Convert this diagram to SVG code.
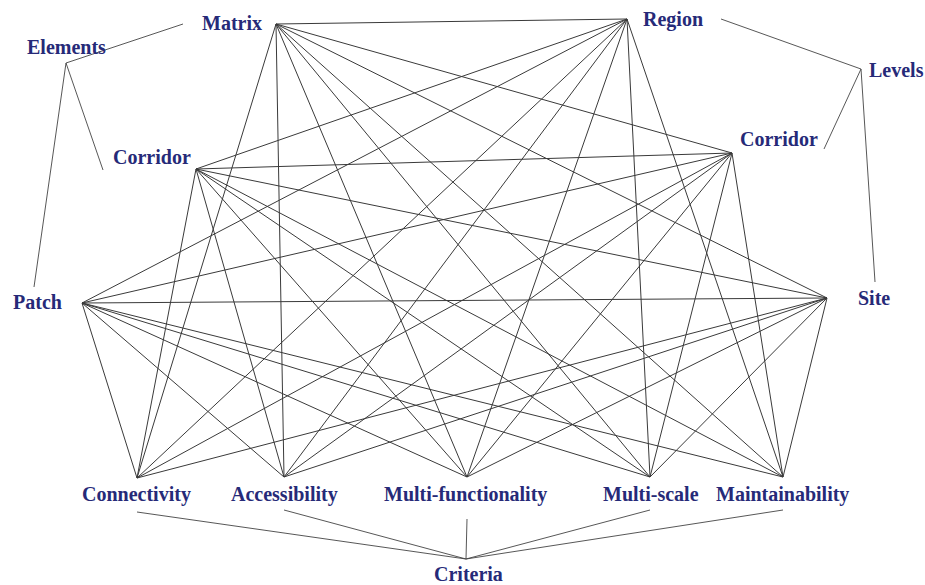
<svg xmlns="http://www.w3.org/2000/svg" width="925" height="585" viewBox="0 0 925 585">
<style>
.lbl{font-family:"Liberation Serif","Times New Roman",serif;font-weight:bold;font-size:20px;fill:#262a78}
.e{stroke:#3a3a3a;stroke-width:1;fill:none}
.t{stroke:#444;stroke-width:0.9;fill:none}
</style>
<rect width="925" height="585" fill="#fff"/>
<g id="tree-connectors">
<path class="t" d="M183,24 L66,63 M66,63 L103,170 M66,63 L34,287"/>
<path class="t" d="M721,19 L861,69 M861,69 L824,149 M861,69 L875,282"/>
<path class="t" d="M137,512 L466,559 M284,510 L466,559 M467,519 L466,559 M650,510 L466,559 M783,510 L466,559"/>
</g>
<g id="connectors">
<path class="e" d="M276,24 L627,19 M276,24 L732,153 M276,24 L827,298"/>
<path class="e" d="M196,169 L627,19 M196,169 L732,153 M196,169 L827,298"/>
<path class="e" d="M82,303 L627,19 M82,303 L732,153 M82,303 L827,298"/>
<path class="e" d="M276,24 L137,478 M276,24 L284,477 M276,24 L467,477 M276,24 L650,477 M276,24 L783,477"/>
<path class="e" d="M196,169 L137,478 M196,169 L284,477 M196,169 L467,477 M196,169 L650,477 M196,169 L783,477"/>
<path class="e" d="M82,303 L137,478 M82,303 L284,477 M82,303 L467,477 M82,303 L650,477 M82,303 L783,477"/>
<path class="e" d="M627,19 L137,478 M627,19 L284,477 M627,19 L467,477 M627,19 L650,477 M627,19 L783,477"/>
<path class="e" d="M732,153 L137,478 M732,153 L284,477 M732,153 L467,477 M732,153 L650,477 M732,153 L783,477"/>
<path class="e" d="M827,298 L137,478 M827,298 L284,477 M827,298 L467,477 M827,298 L650,477 M827,298 L783,477"/>
</g>
<g id="elements"><text class="lbl" x="27" y="54">Elements</text></g>
<g id="matrix"><text class="lbl" x="202" y="30">Matrix</text></g>
<g id="corridor-left"><text class="lbl" x="113" y="164">Corridor</text></g>
<g id="patch"><text class="lbl" x="13" y="309">Patch</text></g>
<g id="levels"><text class="lbl" x="869" y="77">Levels</text></g>
<g id="region"><text class="lbl" x="643" y="26">Region</text></g>
<g id="corridor-right"><text class="lbl" x="740" y="146">Corridor</text></g>
<g id="site"><text class="lbl" x="858" y="305">Site</text></g>
<g id="connectivity"><text class="lbl" x="82" y="501">Connectivity</text></g>
<g id="accessibility"><text class="lbl" x="231" y="501">Accessibility</text></g>
<g id="multi-functionality"><text class="lbl" x="384" y="501">Multi-functionality</text></g>
<g id="multi-scale"><text class="lbl" x="603" y="501">Multi-scale</text></g>
<g id="maintainability"><text class="lbl" x="716" y="501">Maintainability</text></g>
<g id="criteria"><text class="lbl" x="434" y="581">Criteria</text></g>
</svg>
